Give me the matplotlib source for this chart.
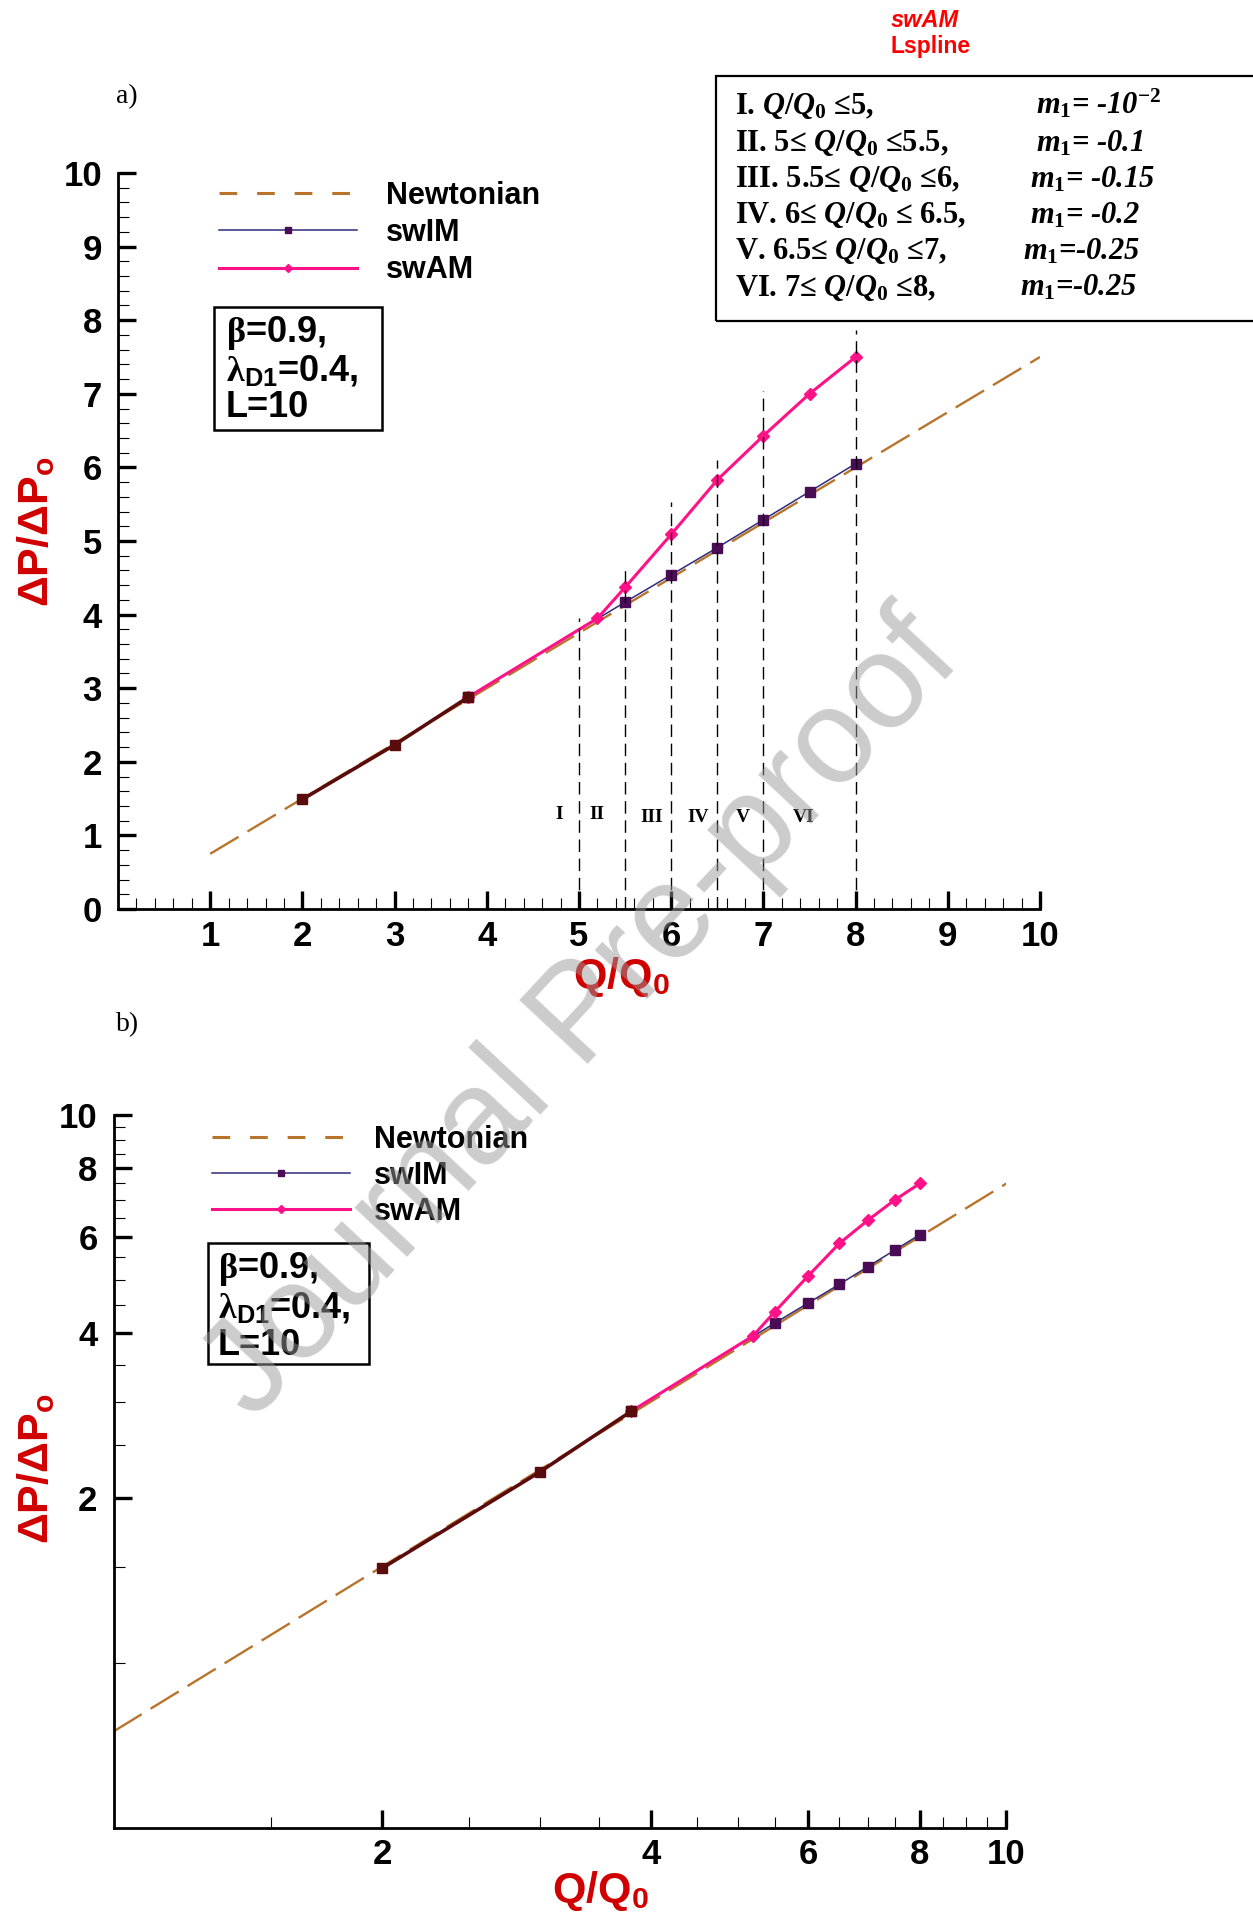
import matplotlib
matplotlib.use("Agg")
import matplotlib.pyplot as plt
from matplotlib.lines import Line2D
from matplotlib.patches import Rectangle
from matplotlib.ticker import FixedLocator, NullFormatter
from matplotlib.font_manager import FontProperties

plt.rcParams['font.family'] = ['Liberation Sans', 'DejaVu Sans']
plt.rcParams['font.weight'] = 'bold'
plt.rcParams['mathtext.fontset'] = 'custom'
plt.rcParams['mathtext.rm'] = 'Liberation Serif:bold'
plt.rcParams['mathtext.it'] = 'Liberation Serif:italic:bold'
plt.rcParams['mathtext.bf'] = 'Liberation Serif:bold'
plt.rcParams['mathtext.sf'] = 'Liberation Sans:bold'
plt.rcParams['mathtext.cal'] = 'Liberation Serif'

# ---------------- data ----------------
newt_x = [1, 10]
newt_y = [0.75, 7.5]
common_x = [2, 3, 3.8]
common_y = [1.49, 2.23, 2.88]
swim_x = [3.8, 5.5, 6, 6.5, 7, 7.5, 8]
swim_y = [2.88, 4.17, 4.54, 4.91, 5.29, 5.67, 6.05]
swam_x = [3.8, 5.2, 5.5, 6, 6.5, 7, 7.5, 8]
swam_y = [2.88, 3.95, 4.37, 5.09, 5.83, 6.43, 7.0, 7.5]
region_bounds = [5, 5.5, 6, 6.5, 7, 8]
region_tops = [3.95, 4.62, 5.53, 6.10, 7.04, 7.87]
region_labels = ['I', 'II', 'III', 'IV', 'V', 'VI']
region_label_x = [4.79, 5.19, 5.79, 6.29, 6.78, 7.44]
region_label_y = [1.28, 1.28, 1.24, 1.24, 1.24, 1.24]
legend_labels = ['Newtonian', 'swIM', 'swAM']
cond_left = [r'I. $Q\mathit{/}Q_{\mathit{0}}$ ≤5,',
             r'II. 5≤ $Q\mathit{/}Q_{\mathit{0}}$ ≤5.5,',
             r'III. 5.5≤ $Q\mathit{/}Q_{\mathit{0}}$ ≤6,',
             r'IV. 6≤ $Q\mathit{/}Q_{\mathit{0}}$ ≤ 6.5,',
             r'V. 6.5≤ $Q\mathit{/}Q_{\mathit{0}}$ ≤7,',
             r'VI. 7≤ $Q\mathit{/}Q_{\mathit{0}}$ ≤8,']
cond_right = [r'$m_{\mathit{1}}$= -10$^{-2}$', r'$m_{\mathit{1}}$= -0.1', r'$m_{\mathit{1}}$= -0.15',
              r'$m_{\mathit{1}}$= -0.2', r'$m_{\mathit{1}}$=-0.25', r'$m_{\mathit{1}}$=-0.25']
param_lines = [r'$\mathcal{β}$=0.9,', r'$\mathcal{λ}_{\mathsf{D1}}$=0.4,', 'L=10']
top_xticks = [1, 2, 3, 4, 5, 6, 7, 8, 9, 10]
top_yticks = [0, 1, 2, 3, 4, 5, 6, 7, 8, 9, 10]
log_major = [2, 4, 6, 8, 10]
log_xminor = [1.5, 2.5, 3, 3.5, 4.5, 5, 5.5, 6.5, 7, 7.5, 8.5, 9, 9.5]
log_yminor = [1, 1.5, 2.5, 3, 3.5, 4.5, 5, 5.5, 6.5, 7, 7.5, 8.5, 9, 9.5]

# ---------------- style ----------------
C_NEWT = '#b8742c'
C_SWIM = '#2e2c7a'
C_SWIM_M = '#4a0c55'
C_SWAM = '#ff1188'
C_COMMON = '#5a0c0c'
C_LABEL = '#d00000'

W, H = 1253, 1914
fig = plt.figure(figsize=(W / 100, H / 100), dpi=100)


def fx(px):
    return px / W


def fy(py):
    return 1 - py / H


def style_axes(ax, xpad, ypad):
    for s in ['top', 'right']:
        ax.spines[s].set_visible(False)
    for s in ['left', 'bottom']:
        ax.spines[s].set_linewidth(2.0)
    ax.tick_params(which='major', direction='in', length=13, width=2.4, labelsize=25)
    ax.tick_params(which='minor', direction='in', length=8, width=0.8)
    ax.tick_params(axis='x', which='major', pad=xpad)
    ax.tick_params(axis='y', which='major', pad=ypad)


def draw_series(ax):
    ax.plot(newt_x, newt_y, color=C_NEWT, lw=1.7, dashes=(14, 4.4), zorder=2)
    ax.plot(swim_x, swim_y, color=C_SWIM, lw=1.1, marker='s', ms=6.5,
            mfc=C_SWIM_M, mec=C_SWIM_M, zorder=3)
    ax.plot(swam_x, swam_y, color=C_SWAM, lw=2.2, marker='D', ms=6,
            mfc=C_SWAM, mec=C_SWAM, zorder=4)
    ax.plot(common_x, common_y, color=C_COMMON, lw=2.6, marker='s', ms=6.5,
            mfc=C_COMMON, mec=C_COMMON, zorder=5)


def legend_handles():
    return [Line2D([], [], color=C_NEWT, lw=2.2, dashes=(5.8, 6.5)),
            Line2D([], [], color=C_SWIM, lw=1.1, marker='s', ms=5, mfc=C_SWIM_M, mec=C_SWIM_M),
            Line2D([], [], color=C_SWAM, lw=2.2, marker='D', ms=4.5, mfc=C_SWAM, mec=C_SWAM)]


def param_box(x0, y0, x1, y1, tx, baselines):
    fig.add_artist(Rectangle((fx(x0), fy(y1)), fx(x1) - fx(x0), fy(y0) - fy(y1),
                             transform=fig.transFigure, fill=False, lw=1.8, ec='black'))
    for txt, b in zip(param_lines, baselines):
        fig.text(fx(tx), fy(b), txt, fontsize=26, fontweight='bold', va='baseline', ha='left')


# ---------------- top panel (a) ----------------
ax1 = fig.add_axes([fx(118), fy(909), fx(1040) - fx(118), fy(173) - fy(909)])
draw_series(ax1)
ax1.vlines(region_bounds, 0, region_tops, colors='black', lw=1.0,
           linestyles=(0, (9, 4.8)), zorder=6)
for lab, lx, ly in zip(region_labels, region_label_x, region_label_y):
    ax1.text(lx, ly, lab, family='Liberation Serif', fontweight='bold', fontsize=14,
             ha='center', va='center', zorder=7)
ax1.set_xlim(0, 10)
ax1.set_ylim(0, 10)
ax1.set_xticks(top_xticks, [str(v) for v in top_xticks])
ax1.set_yticks(top_yticks, [str(v) for v in top_yticks])
ax1.xaxis.set_minor_locator(FixedLocator([i * 0.2 for i in range(1, 50) if i % 5]))
ax1.yaxis.set_minor_locator(FixedLocator([i * 0.2 for i in range(1, 50) if i % 5]))
style_axes(ax1, 8, 11.5)
leg_prop = FontProperties(family='Liberation Sans', weight='bold', size=22)
ax1.legend(legend_handles(), legend_labels, loc='center left',
           bbox_to_anchor=(fx(219), fy(233)), bbox_transform=fig.transFigure,
           frameon=False, borderpad=0, borderaxespad=0, handlelength=4.52,
           handletextpad=0.95, labelspacing=0.24, prop=leg_prop, numpoints=1)

# ---------------- bottom panel (b) ----------------
ax2 = fig.add_axes([fx(113.5), fy(1828), fx(1006.4) - fx(113.5), fy(1115) - fy(1828)])
draw_series(ax2)
ax2.set_xscale('log')
ax2.set_yscale('log')
ax2.set_xlim(1, 10)
ax2.set_ylim(0.5, 10)
ax2.set_xticks(log_major, [str(v) for v in log_major])
ax2.set_yticks(log_major, [str(v) for v in log_major])
ax2.xaxis.set_minor_locator(FixedLocator(log_xminor))
ax2.yaxis.set_minor_locator(FixedLocator(log_yminor))
ax2.xaxis.set_minor_formatter(NullFormatter())
ax2.yaxis.set_minor_formatter(NullFormatter())
style_axes(ax2, 7, 11.5)
ax2.legend(legend_handles(), legend_labels, loc='center left',
           bbox_to_anchor=(fx(211.7), fy(1176)), bbox_transform=fig.transFigure,
           frameon=False, borderpad=0, borderaxespad=0, handlelength=4.52,
           handletextpad=0.79, labelspacing=0.2, prop=leg_prop, numpoints=1)

# ---------------- axis labels ----------------
ylab = r'$\mathsf{ΔP/ΔP_o}$'
xlab = r'$\mathsf{Q/Q_0}$'
fig.text(fx(36), fy(532), ylab, rotation=90, color=C_LABEL, fontsize=31, ha='center', va='center')
fig.text(fx(36), fy(1469), ylab, rotation=90, color=C_LABEL, fontsize=31, ha='center', va='center')
fig.text(fx(621), fy(977), xlab, color=C_LABEL, fontsize=31, ha='center', va='center')
fig.text(fx(600), fy(1891), xlab, color=C_LABEL, fontsize=31, ha='center', va='center')

# ---------------- annotations ----------------
fig.text(fx(116), fy(97), 'a)', family='Liberation Serif', fontweight='normal', fontsize=20,
         ha='left', va='center')
fig.text(fx(116), fy(1025), 'b)', family='Liberation Serif', fontweight='normal', fontsize=20,
         ha='left', va='center')
fig.text(fx(891), fy(27), 'swAM', color='#ff0000', fontstyle='italic', fontweight='bold',
         fontsize=17, ha='left', va='baseline')
fig.text(fx(891), fy(53), 'Lspline', color='#ff0000', fontweight='bold',
         fontsize=16.5, ha='left', va='baseline')

param_box(214.3, 306.7, 381.7, 430, 225.7, [341.7, 380, 416.7])
param_box(207.7, 1243.3, 369, 1364, 217.7, [1278.3, 1317.3, 1355])

# condition table box
fig.add_artist(Rectangle((fx(716), fy(321)), fx(1270) - fx(716), fy(76) - fy(321),
                         transform=fig.transFigure, fill=False, lw=1.6, ec='black'))
cond_base = [114, 151, 187.5, 223, 259.5, 296]
right_x = [1035.6, 1035.6, 1029.6, 1029.6, 1023.4, 1019.8]
for txt, b in zip(cond_left, cond_base):
    fig.text(fx(735), fy(b), txt, family='Liberation Serif', fontweight='bold', fontsize=22,
             ha='left', va='baseline')
for txt, b, rx in zip(cond_right, cond_base, right_x):
    fig.text(fx(rx), fy(b), txt, family='Liberation Serif', fontweight='bold',
             fontstyle='italic', fontsize=22, ha='left', va='baseline')

# watermark
fig.text(fx(583), fy(1017), 'Journal Pre-proof', rotation=47, rotation_mode='anchor',
         ha='center', va='center', fontsize=97, color='#999999', alpha=0.5,
         family='Liberation Sans', fontweight='normal', zorder=100)

fig.savefig('out.png', dpi=100)
